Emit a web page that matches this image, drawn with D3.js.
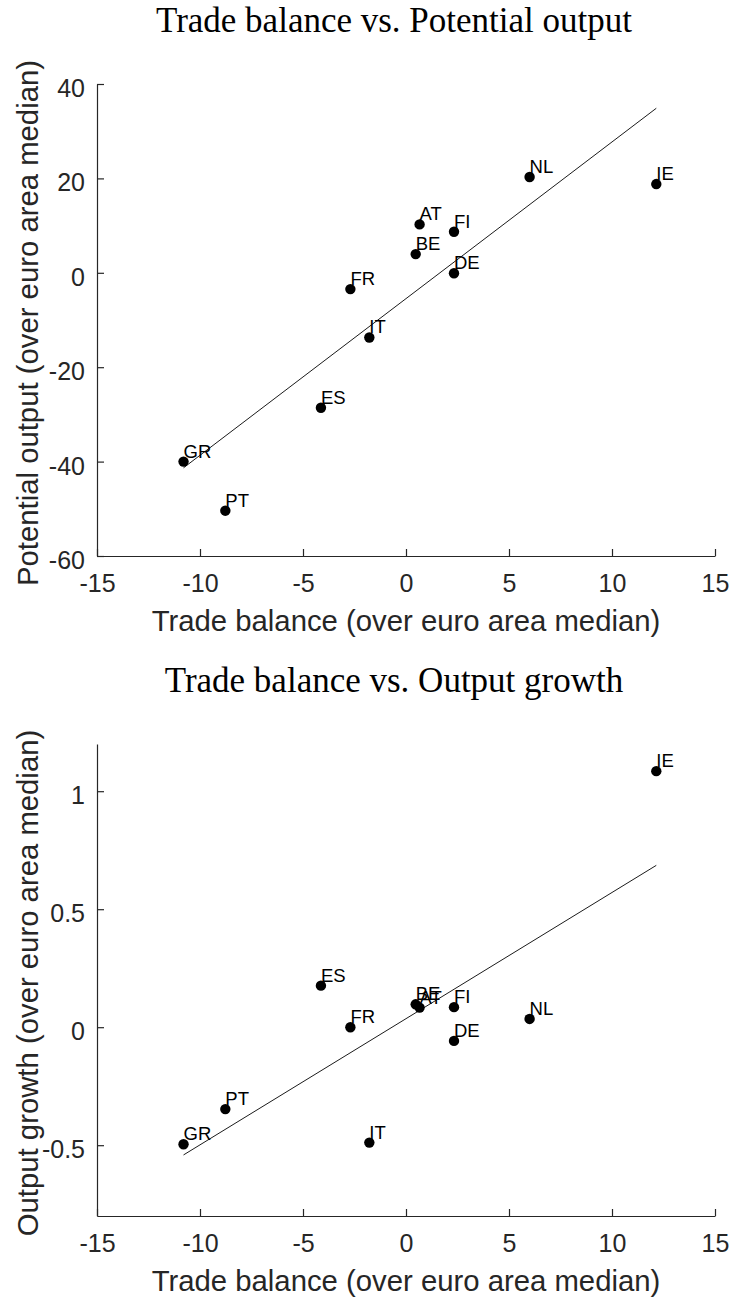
<!DOCTYPE html>
<html>
<head>
<meta charset="utf-8">
<script src="https://cdn.jsdelivr.net/npm/d3@7"></script>
<style>
  html, body { margin: 0; padding: 0; background: #fff; }
  svg { display: block; }
</style>
</head>
<body>
<svg id="chart" width="732" height="1300"></svg>
<script>
// Country codes and their values relative to the euro area median
const countries      = ["GR", "PT", "ES", "IT", "FR", "AT", "FI", "BE", "DE", "NL", "IE"];
const tradeBalance   = [-10.8, -8.77, -4.13, -1.78, -2.70, 0.66, 2.33, 0.47, 2.33, 6.0, 12.15];
const potentialOutput = [-40.0, -50.4, -28.6, -13.7, -3.45, 10.25, 8.7, 3.96, -0.1, 20.3, 18.8];
const outputGrowth   = [-0.496, -0.347, 0.176, -0.489, 0.0, 0.083, 0.085, 0.097, -0.058, 0.035, 1.085];

// Tick values
const xTicks       = [-15, -10, -5, 0, 5, 10, 15];
const yTicksTop    = [-60, -40, -20, 0, 20, 40];
const yTicksBottom = [-0.5, 0, 0.5, 1];

const axisColor = "#262626";
const sansFont = "'Liberation Sans', Arial, Helvetica, sans-serif";
const serifFont = "'Liberation Serif', 'Times New Roman', serif";

const svg = d3.select("#chart");

// Ordinary least-squares fit of y on x
function olsFit(xs, ys) {
  const n = xs.length;
  const mx = d3.mean(xs), my = d3.mean(ys);
  let sxy = 0, sxx = 0;
  for (let i = 0; i < n; i++) {
    sxy += (xs[i] - mx) * (ys[i] - my);
    sxx += (xs[i] - mx) * (xs[i] - mx);
  }
  const slope = sxy / sxx;
  return { slope, intercept: my - slope * mx };
}

function drawPanel(cfg) {
  const x = d3.scaleLinear().domain([-15, 15]).range([97, 715]);
  const y = d3.scaleLinear().domain(cfg.yDomain).range([cfg.bottom, cfg.top]);
  const g = svg.append("g");

  // Title
  g.append("text")
    .attr("x", 394)
    .attr("y", cfg.titleY)
    .attr("text-anchor", "middle")
    .attr("font-family", serifFont)
    .attr("font-size", 35)
    .attr("fill", "#000")
    .text(cfg.title);

  // X axis
  const xAxis = d3.axisBottom(x)
    .tickValues(xTicks)
    .tickFormat(d => String(d))
    .tickSizeInner(-7)
    .tickSizeOuter(0)
    .tickPadding(18.5);
  const gx = g.append("g")
    .attr("transform", `translate(0,${cfg.bottom})`)
    .call(xAxis);

  // Y axis
  const yAxis = d3.axisLeft(y)
    .tickValues(cfg.yTicks)
    .tickFormat(d => String(d))
    .tickSizeInner(-7)
    .tickSizeOuter(0)
    .tickPadding(12);
  const gy = g.append("g")
    .attr("transform", "translate(97,0)")
    .call(yAxis);
  gy.selectAll(".tick text").attr("dy", "0.5em");

  [gx, gy].forEach(ax => {
    ax.select(".domain").attr("stroke", axisColor).attr("stroke-width", 1.2);
    ax.selectAll(".tick line").attr("stroke", axisColor).attr("stroke-width", 1.2);
    ax.selectAll(".tick text")
      .attr("fill", axisColor)
      .attr("font-family", sansFont)
      .attr("font-size", 25);
  });

  // Axis labels
  g.append("text")
    .attr("x", 406)
    .attr("y", cfg.bottom + 75)
    .attr("text-anchor", "middle")
    .attr("font-family", sansFont)
    .attr("font-size", 29.3)
    .attr("fill", axisColor)
    .text("Trade balance (over euro area median)");

  g.append("text")
    .attr("transform", `translate(38,${(cfg.top + cfg.bottom) / 2 + 3}) rotate(-90)`)
    .attr("text-anchor", "middle")
    .attr("font-family", sansFont)
    .attr("font-size", 29.3)
    .attr("fill", axisColor)
    .text(cfg.yLabel);

  // Fitted line across the observed range of trade balance
  const fit = olsFit(tradeBalance, cfg.values);
  const x0 = d3.min(tradeBalance), x1 = d3.max(tradeBalance);
  g.append("line")
    .attr("x1", x(x0)).attr("y1", y(fit.intercept + fit.slope * x0))
    .attr("x2", x(x1)).attr("y2", y(fit.intercept + fit.slope * x1))
    .attr("stroke", "#000")
    .attr("stroke-width", 0.9);

  // Points
  const pts = countries.map((c, i) => ({ c, xv: tradeBalance[i], yv: cfg.values[i] }));
  g.selectAll("circle.pt").data(pts).enter().append("circle")
    .attr("class", "pt")
    .attr("cx", d => x(d.xv))
    .attr("cy", d => y(d.yv))
    .attr("r", 5.2)
    .attr("fill", "#000");

  // Country labels
  g.selectAll("text.lbl").data(pts).enter().append("text")
    .attr("class", "lbl")
    .attr("x", d => x(d.xv))
    .attr("y", d => y(d.yv) - 4)
    .attr("font-family", sansFont)
    .attr("font-size", 18.5)
    .attr("fill", "#000")
    .text(d => d.c);
}

drawPanel({
  title: "Trade balance vs. Potential output",
  titleY: 32,
  yLabel: "Potential output (over euro area median)",
  yDomain: [-60, 40],
  yTicks: yTicksTop,
  values: potentialOutput,
  top: 84,
  bottom: 556
});

drawPanel({
  title: "Trade balance vs. Output growth",
  titleY: 692,
  yLabel: "Output growth (over euro area median)",
  yDomain: [-0.8, 1.2],
  yTicks: yTicksBottom,
  values: outputGrowth,
  top: 744,
  bottom: 1216
});
</script>
</body>
</html>
